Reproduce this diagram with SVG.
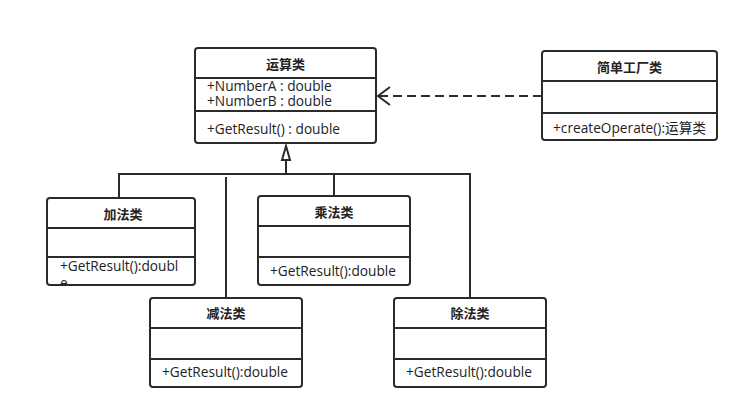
<svg xmlns="http://www.w3.org/2000/svg" width="749" height="418" viewBox="0 0 749 418">
<style>
.box{fill:#fff;stroke:#2b2b2b;stroke-width:2}
.div{stroke:#2b2b2b;stroke-width:2;fill:none}
.t{font-family:"Open Sans","Noto Sans CJK SC",sans-serif;font-size:13.7px;fill:#222}
.h{font-family:"Noto Sans CJK SC","Open Sans",sans-serif;font-size:13px;font-weight:bold;fill:#222;text-anchor:middle}
.ln{stroke:#2b2b2b;stroke-width:2;fill:none}
</style>
<defs>
<clipPath id="clipAdd"><rect x="47" y="257" width="148" height="28"/></clipPath>
</defs>
<rect width="749" height="418" fill="#fff"/>
<g id="connectors">
<line class="ln" x1="542" y1="96" x2="379" y2="96" stroke-dasharray="9,5"/>
<polyline class="ln" points="390,87 378,96 390,105"/>
<polygon points="286,146 282,160 290,160" fill="#fff" stroke="#2b2b2b" stroke-width="2"/>
<line class="ln" x1="286" y1="160" x2="286" y2="174"/>
<polyline class="ln" points="119,198 119,174 470,174 470,298"/>
<line class="ln" x1="334" y1="174" x2="334" y2="196"/>
<line class="ln" x1="226" y1="177" x2="226" y2="298"/>
</g>
<g id="yunsuan">
<rect class="box" x="195" y="48" width="181" height="95" rx="3"/>
<line class="div" x1="195" y1="78" x2="376" y2="78"/>
<line class="div" x1="195" y1="111" x2="376" y2="111"/>
<text class="h" x="285.5" y="69">运算类</text>
<text class="t" x="207" y="91">+NumberA : double<tspan x="207" y="106">+NumberB : double</tspan></text>
<text class="t" x="207" y="134">+GetResult() : double</text>
</g>
<g id="factory">
<rect class="box" x="542" y="51" width="175" height="89" rx="3"/>
<line class="div" x1="542" y1="81" x2="717" y2="81"/>
<line class="div" x1="542" y1="113" x2="717" y2="113"/>
<text class="h" x="629.5" y="72">简单工厂类</text>
<text class="t" x="553" y="133">+createOperate():运算类</text>
</g>
<g id="add">
<rect class="box" x="47" y="198" width="148" height="87" rx="3"/>
<line class="div" x1="47" y1="228" x2="195" y2="228"/>
<line class="div" x1="47" y1="257" x2="195" y2="257"/>
<text class="h" x="123" y="219">加法类</text>
<g clip-path="url(#clipAdd)">
<text class="t" x="60" y="271">+GetResult():doubl<tspan x="60" y="288">e</tspan></text>
</g>
</g>
<g id="mul">
<rect class="box" x="258" y="196" width="152" height="89" rx="3"/>
<line class="div" x1="258" y1="226" x2="410" y2="226"/>
<line class="div" x1="258" y1="257" x2="410" y2="257"/>
<text class="h" x="334" y="217">乘法类</text>
<text class="t" x="270" y="276">+GetResult():double</text>
</g>
<g id="sub">
<rect class="box" x="150" y="298" width="152" height="89" rx="3"/>
<line class="div" x1="150" y1="328" x2="302" y2="328"/>
<line class="div" x1="150" y1="359" x2="302" y2="359"/>
<text class="h" x="226" y="318">减法类</text>
<text class="t" x="162" y="377">+GetResult():double</text>
</g>
<g id="div">
<rect class="box" x="394" y="298" width="152" height="89" rx="3"/>
<line class="div" x1="394" y1="328" x2="546" y2="328"/>
<line class="div" x1="394" y1="359" x2="546" y2="359"/>
<text class="h" x="470" y="318">除法类</text>
<text class="t" x="406" y="377">+GetResult():double</text>
</g>
</svg>
